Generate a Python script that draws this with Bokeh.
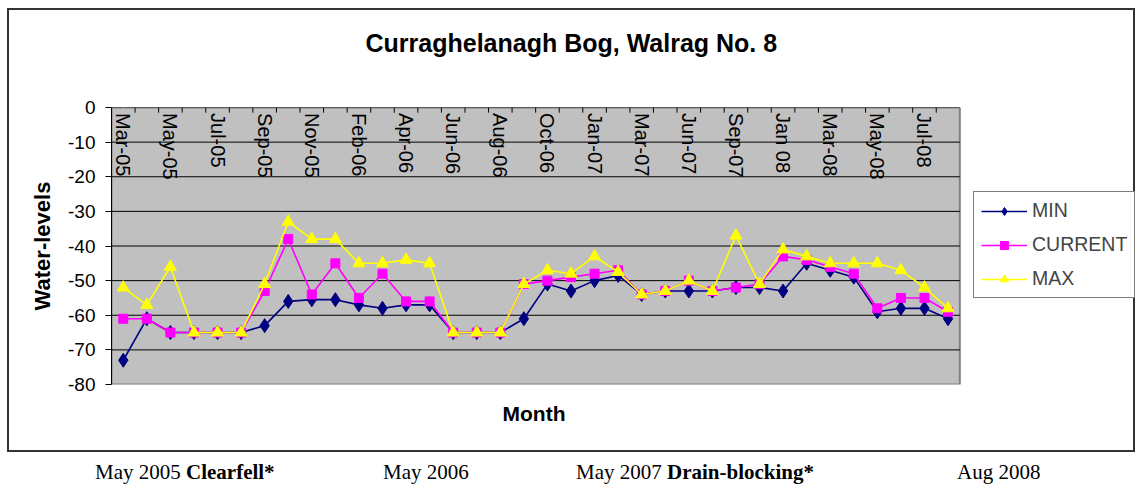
import math
from bokeh.plotting import figure
from bokeh.models import (ColumnDataSource, FixedTicker, Legend, LegendItem, Div,
                          LinearAxis, Title)
from bokeh.layouts import column
from bokeh.core.properties import value
from bokeh.embed import file_html
from bokeh.resources import INLINE

# ---------------- data ----------------
months = ["Mar-05", "Apr-05", "May-05", "Jun-05", "Jul-05", "Aug-05", "Sep-05", "Oct-05",
          "Nov-05", "Dec-05", "Feb-06", "Mar-06", "Apr-06", "May-06", "Jun-06", "Jul-06",
          "Aug-06", "Sep-06", "Oct-06", "Nov-06", "Jan-07", "Feb-07", "Mar-07", "May-07",
          "Jun-07", "Aug-07", "Sep-07", "Nov-07", "Jan 08", "Feb-08", "Mar-08", "Apr-08",
          "May-08", "Jun-08", "Jul-08", "Aug-08"]
min_vals = [-73, -61, -65, -65, -65, -65, -63, -56, -55.5, -55.5, -57, -58, -57, -57, -65, -65,
            -65, -61, -51, -53, -50, -48.5, -54, -53, -53, -53, -52, -52, -53, -45, -47, -49,
            -59, -58, -58, -61]
current_vals = [-61, -61, -65, -65, -65, -65, -53, -38, -54, -45, -55, -48, -56, -56, -65, -65,
                -65, -51, -50, -49, -48, -47, -54, -53, -50, -53, -52, -51, -43, -44, -46, -48,
                -58, -55, -55, -59]
max_vals = [-52, -57, -46, -65, -65, -65, -51, -33, -38, -38, -45, -45, -44, -45, -65, -65,
            -65, -51, -47, -48, -43, -47.5, -54, -53, -50, -53, -37, -51, -41, -43, -45, -45,
            -45, -47, -52, -58]
y_ticks = [0, -10, -20, -30, -40, -50, -60, -70, -80]
y_min, y_max = -80, 0
title_text = "Curraghelanagh Bog, Walrag No. 8"
x_title = "Month"
y_title = "Water-levels"
footnotes = [("May 2005 ", "Clearfell*"), ("May 2006", ""), ("May 2007 ", "Drain-blocking*"),
             ("Aug 2008", "")]

FONT = "Liberation Sans"
n = len(months)
idx = list(range(n))
src = ColumnDataSource(dict(x=idx, mn=min_vals, cur=current_vals, mx=max_vals))

# layout: the frame also holds the legend; the grey plot area covers the categories only
PLOT_W, FRAME_W, FRAME_H = 845, 1022, 273
x_lo = -0.5
x_hi = x_lo + n * FRAME_W / PLOT_W

p = figure(frame_width=FRAME_W, frame_height=FRAME_H,
           x_range=(x_lo, x_hi), y_range=(y_min, y_max),
           output_backend="svg", toolbar_location=None, x_axis_location=None,
           min_border_left=102, min_border_right=0, min_border_top=97, min_border_bottom=70)
p.styles = {"border": "2px solid #333333"}
p.background_fill_color = "white"
p.border_fill_color = "white"
p.outline_line_color = None
p.grid.visible = False

# grey plot area
p.quad(left=[x_lo], right=[n - 0.5], bottom=[y_min], top=[y_max],
       fill_color="#C0C0C0", line_color="#808080", line_width=2)
# horizontal gridlines
gl = [t for t in y_ticks if t != y_min]
p.segment(x0=[x_lo] * len(gl), y0=gl, x1=[n - 0.5] * len(gl), y1=gl,
          line_color="black", line_width=1)

# invisible spacer axis above the frame (a white tick on white; positions the title)
spacer = LinearAxis(ticker=FixedTicker(ticks=[0]), major_tick_out=46, major_tick_in=0,
                    major_tick_line_color="white", minor_tick_out=0, minor_tick_in=0,
                    minor_tick_line_color=None, axis_line_color=None,
                    major_label_standoff=0, major_label_text_color=None,
                    major_label_overrides={0: ""})
p.add_layout(spacer, "above")

# title
p.title.text = title_text
p.title.align = "left"
p.title.offset = 254
p.title.text_font = FONT
p.title.text_font_size = "25px"
p.title.text_font_style = "bold"
p.title.text_color = "black"
p.title.standoff = 10

# x axis title "Month" below
p.add_layout(Title(text=x_title, align="left", offset=391,
                   text_font=FONT, text_font_size="21px", text_font_style="bold",
                   text_color="black", standoff=34, vertical_align="top"), "below")

# y axis
ya = p.yaxis[0]
ya.ticker = FixedTicker(ticks=y_ticks)
ya.major_label_overrides = {t: str(t) for t in y_ticks}
ya.major_tick_out = 6
ya.major_tick_in = 0
ya.minor_tick_line_color = None
ya.axis_line_color = "black"
ya.major_tick_line_color = "black"
ya.major_label_text_font = FONT
ya.major_label_text_font_size = "19px"
ya.major_label_text_color = "black"
ya.major_label_standoff = 10
ya.axis_label = y_title
ya.axis_label_text_font = FONT
ya.axis_label_text_font_size = "22px"
ya.axis_label_text_font_style = "bold"
ya.axis_label_text_color = "black"
ya.axis_label_standoff = 10

# tick marks at category boundaries along the zero line
bounds = [i + 0.5 for i in idx[:-1]]
p.segment(x0=bounds, y0=[y_max] * len(bounds), x1=bounds, y1=[y_max - 1.5] * len(bounds),
          line_color="black", line_width=1)

# month labels inside plot, every other category
lab_src = ColumnDataSource(dict(x=idx[::2], t=months[::2]))
p.text(x="x", y=y_max - 1.6, text="t", source=lab_src, angle=-math.pi / 2,
       text_align="left", text_baseline="middle", text_font=value(FONT),
       text_font_size="20px", text_color="black")

# series
series = [("MIN", "mn", "#000080", "diamond", 14),
          ("CURRENT", "cur", "#FF00FF", "square", 9),
          ("MAX", "mx", "#FFFF00", "triangle", 12)]
items = []
for label, col, color, marker, size in series:
    lr = p.line("x", col, source=src, line_color=color, line_width=1.6)
    sr = p.scatter("x", col, source=src, marker=marker, size=size,
                   fill_color=color, line_color=color)
    items.append(LegendItem(label=label, renderers=[lr, sr]))

legend = Legend(items=items, location=(862, 86), border_line_color="black",
                border_line_width=1, background_fill_color="white", background_fill_alpha=1,
                label_text_font=FONT, label_text_font_size="19.5px", glyph_width=46,
                glyph_height=20, label_height=20, spacing=11, padding=7, margin=0,
                label_standoff=5)
p.add_layout(legend, "center")

# footnote line below the chart box
lefts = [83, 371, 564, 945]
spans = ""
for (normal, bold), left in zip(footnotes, lefts):
    inner = normal + (f"<b>{bold}</b>" if bold else "")
    spans += (f'<span style="position:absolute;left:{left}px;top:3px;'
              f'white-space:nowrap;">{inner}</span>')
div = Div(text=(f'<div style="position:relative;width:1120px;height:28px;'
                f'font-family:\'Liberation Serif\';font-size:21px;line-height:24px;'
                f'color:black;">{spans}</div>'), width=1120, height=28)

lay = column(p, div, spacing=0, margin=(8, 0, 0, 7))
open("out.html", "w").write(file_html(lay, INLINE))
